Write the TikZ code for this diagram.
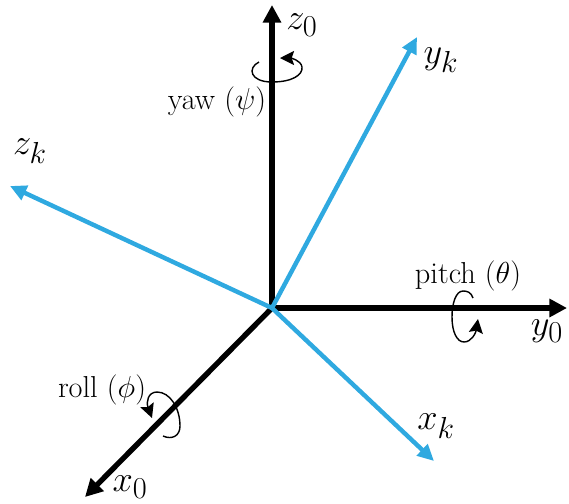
\documentclass[tikz,border=0pt]{standalone}
\usetikzlibrary{arrows.meta}
\definecolor{framek}{HTML}{2FA9E0}
\tikzset{
  axiszero/.style={line width=4.6pt, black, -{Triangle[length=15pt,width=15pt]}},
  axisk/.style={line width=3.8pt, framek, -{Triangle[length=14pt,width=13pt]}},
  turn/.style={line width=1.2pt, black, -{Stealth[length=12pt,width=12pt,inset=2pt]}},
  axlabel/.style={font=\fontsize{24.88}{26}\selectfont, inner sep=0pt, scale=1.25, transform shape},
  anglabel/.style={font=\fontsize{24.88}{26}\selectfont, inner sep=0pt, scale=1.04, transform shape},
}
\begin{document}
\begin{tikzpicture}[x=0.3mm,y=-0.3mm]
\useasboundingbox (0,0) rectangle (569,503);
\coordinate (o) at (272,308);
\coordinate (z0) at (272,5);
\coordinate (y0) at (567,308);
\coordinate (x0) at (85,497);
\coordinate (zk) at (10,186);
\coordinate (yk) at (417,37);
\coordinate (xk) at (434,461);
% base frame
\draw[axiszero] (o) -- (z0);
\draw[axiszero] (o) -- (y0);
\draw[axiszero] (o) -- (x0);
% rotated frame
\draw[axisk] (o) -- (zk);
\draw[axisk] (o) -- (yk);
\draw[axisk] (o) -- (xk);
% rotations
\draw[turn] (259,62) .. controls (247,68) and (250,82) .. (272,82)
  .. controls (292,82) and (303,75) .. (302,67)
  .. controls (301,60) and (290,58) .. (280,58);
\draw[turn] (473,298) .. controls (471,292) and (467,291) .. (463,291)
  .. controls (456,291) and (452,303) .. (452,317)
  .. controls (452,332) and (457,342) .. (464,342)
  .. controls (472,342) and (476,332) .. (478,319);
\draw[turn] (163,436) .. controls (172,440) and (180,436) .. (180,426)
  .. controls (180,408) and (170,392) .. (157,392)
  .. controls (148,392) and (146,402) .. (152,418);
% labels
\node[axlabel] (labz0) at (302,25) {$z_0$};
\node[axlabel] (laby0) at (547,331) {$y_0$};
\node[axlabel] (labx0) at (130,487) {$x_0$};
\node[axlabel] (labzk) at (30,151) {$z_k$};
\node[axlabel] (labyk) at (441,60) {$y_k$};
\node[axlabel] (labxk) at (436,426) {$x_k$};
\node[anglabel] (yaw) at (217,102) {yaw ($\psi$)};
\node[anglabel] (pitch) at (468,276) {pitch ($\theta$)};
\node[anglabel] (roll) at (102,390) {roll ($\phi$)};
\end{tikzpicture}
\end{document}
